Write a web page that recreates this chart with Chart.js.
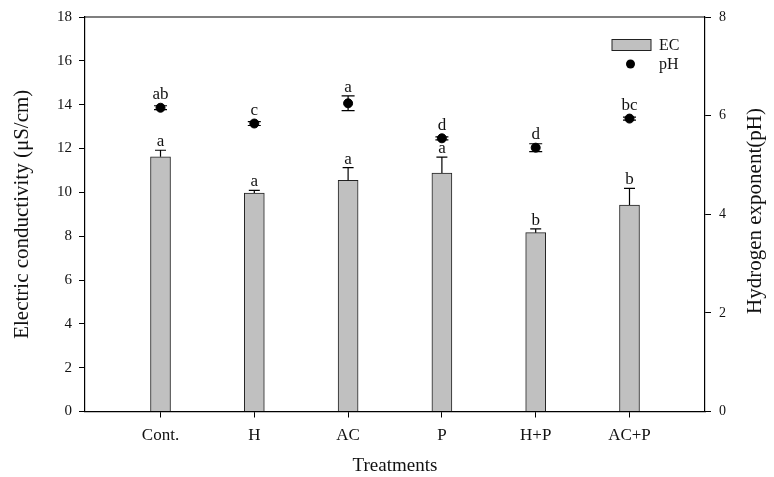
<!DOCTYPE html>
<html>
<head>
<meta charset="utf-8">
<script src="https://cdn.jsdelivr.net/npm/chart.js@4.4.0/dist/chart.umd.min.js"></script>
<style>
  html, body { margin: 0; padding: 0; background: #fff; }
  #wrap { width: 774px; height: 477px; }
</style>
</head>
<body>
<div id="wrap"><canvas id="ecChart"></canvas></div>
<script>
const categories = ['Cont.', 'H', 'AC', 'P', 'H+P', 'AC+P'];
const ecValues = [11.62, 9.97, 10.55, 10.88, 8.16, 9.42];
const ecErrors = [0.30, 0.12, 0.58, 0.73, 0.17, 0.76];
const ecLetters = ['a', 'a', 'a', 'a', 'b', 'b'];
const phValues = [6.16, 5.84, 6.25, 5.54, 5.35, 5.94];
const phErrors = [0.04, 0.04, 0.15, 0.03, 0.08, 0.03];
const phLetters = ['ab', 'c', 'a', 'd', 'd', 'bc'];
const ecTicks = [0, 2, 4, 6, 8, 10, 12, 14, 16, 18];
const phTicks = [0, 2, 4, 6, 8];

const serif = 'Liberation Serif, Times New Roman, serif';

// error bars, letters, top frame line, right title and the legend
const extras = {
    id: 'extras',
    afterDatasetsDraw(chart) {
        const ctx = chart.ctx;
        const x = chart.scales.x;
        const y = chart.scales.y;
        const y1 = chart.scales.y1;
        const area = chart.chartArea;

        ctx.save();
        ctx.strokeStyle = '#000';
        ctx.lineWidth = 1.2;

        ctx.beginPath();
        ctx.moveTo(area.left, area.top);
        ctx.lineTo(area.right, area.top);
        ctx.stroke();

        ctx.font = '17px ' + serif;
        ctx.fillStyle = '#111';
        ctx.textAlign = 'center';
        ctx.textBaseline = 'alphabetic';

        categories.forEach((c, i) => {
            const px = x.getPixelForValue(i);

            // EC: one-sided error bar
            const yBar = y.getPixelForValue(ecValues[i]);
            const yTop = y.getPixelForValue(ecValues[i] + ecErrors[i]);
            ctx.beginPath();
            ctx.moveTo(px, yBar);
            ctx.lineTo(px, yTop);
            ctx.moveTo(px - 5.5, yTop);
            ctx.lineTo(px + 5.5, yTop);
            ctx.stroke();
            ctx.fillText(ecLetters[i], px, yTop - 4);

            // pH: two-sided error bar
            const yp = y1.getPixelForValue(phValues[i]);
            const yHi = y1.getPixelForValue(phValues[i] + phErrors[i]);
            const yLo = y1.getPixelForValue(phValues[i] - phErrors[i]);
            ctx.beginPath();
            ctx.moveTo(px, yLo);
            ctx.lineTo(px, yHi);
            ctx.moveTo(px - 6.5, yHi);
            ctx.lineTo(px + 6.5, yHi);
            ctx.moveTo(px - 6.5, yLo);
            ctx.lineTo(px + 6.5, yLo);
            ctx.stroke();
            ctx.fillText(phLetters[i], px, Math.min(yHi, yp - 4.5) - 4);
        });

        // right axis title, reading bottom to top like the left one
        ctx.save();
        ctx.translate(755, 211);
        ctx.rotate(-Math.PI / 2);
        ctx.font = '21px ' + serif;
        ctx.textBaseline = 'middle';
        ctx.fillText('Hydrogen exponent(pH)', 0, 0);
        ctx.restore();

        // legend
        ctx.lineWidth = 1;
        ctx.fillStyle = '#c0c0c0';
        ctx.fillRect(612, 39.5, 39, 11);
        ctx.strokeStyle = '#222';
        ctx.strokeRect(612, 39.5, 39, 11);
        ctx.fillStyle = '#000';
        ctx.beginPath();
        ctx.arc(630.5, 64, 4.5, 0, Math.PI * 2);
        ctx.fill();
        ctx.font = '16px ' + serif;
        ctx.textAlign = 'left';
        ctx.textBaseline = 'middle';
        ctx.fillStyle = '#111';
        ctx.fillText('EC', 659, 45.5);
        ctx.fillText('pH', 659, 65);
        ctx.restore();
    }
};

const ctx = document.getElementById('ecChart').getContext('2d');
const ecChart = new Chart(ctx, {
    type: 'bar',
    data: {
        datasets: [{
            type: 'bar',
            label: 'EC',
            data: categories.map((c, i) => ({ x: i, y: ecValues[i] })),
            backgroundColor: '#c0c0c0',
            borderColor: '#222',
            borderWidth: 1,
            barThickness: 20,
            yAxisID: 'y'
        }, {
            type: 'line',
            label: 'pH',
            data: categories.map((c, i) => ({ x: i, y: phValues[i] })),
            showLine: false,
            pointRadius: 4.5,
            pointBackgroundColor: '#000',
            pointBorderColor: '#000',
            yAxisID: 'y1'
        }]
    },
    options: {
        responsive: true,
        maintainAspectRatio: false,
        animation: false,
        layout: { padding: { top: 17, left: 0, right: 0, bottom: 0 } },
        plugins: {
            legend: { display: false },
            tooltip: { enabled: false }
        },
        scales: {
            x: {
                type: 'linear',
                offset: false,
                min: -0.805,
                max: 5.805,
                afterBuildTicks: function(scale) {
                    scale.ticks = categories.map((c, i) => ({ value: i }));
                },
                afterFit: function(scale) { scale.height = 65.5; },
                ticks: {
                    autoSkip: false,
                    maxRotation: 0,
                    padding: 8,
                    color: '#111',
                    font: { family: serif, size: 17 },
                    callback: function(value) { return categories[value]; }
                },
                grid: { offset: false, drawOnChartArea: false, tickLength: 6, color: '#000', lineWidth: 1 },
                border: { color: '#000', width: 1.2 },
                title: {
                    display: true,
                    text: 'Treatments',
                    color: '#111',
                    font: { family: serif, size: 19 },
                    padding: { top: 0, bottom: 0 }
                }
            },
            y: {
                position: 'left',
                min: 0,
                max: 18,
                afterBuildTicks: function(scale) {
                    scale.ticks = ecTicks.map(v => ({ value: v }));
                },
                afterFit: function(scale) { scale.width = 85; },
                ticks: {
                    padding: 7,
                    color: '#111',
                    font: { family: serif, size: 15 }
                },
                grid: { drawOnChartArea: false, tickLength: 6, color: '#000', lineWidth: 1 },
                border: { color: '#000', width: 1.2 },
                title: {
                    display: true,
                    text: 'Electric conductivity (μS/cm)',
                    color: '#111',
                    font: { family: serif, size: 21 },
                    padding: { top: 10, bottom: 0 }
                }
            },
            y1: {
                position: 'right',
                min: 0,
                max: 8,
                afterBuildTicks: function(scale) {
                    scale.ticks = phTicks.map(v => ({ value: v }));
                },
                afterFit: function(scale) { scale.width = 69; },
                ticks: {
                    padding: 8,
                    color: '#111',
                    font: { family: serif, size: 14 }
                },
                grid: { drawOnChartArea: false, tickLength: 6, color: '#000', lineWidth: 1 },
                border: { color: '#000', width: 1.2 }
            }
        }
    },
    plugins: [extras]
});
</script>
</body>
</html>
